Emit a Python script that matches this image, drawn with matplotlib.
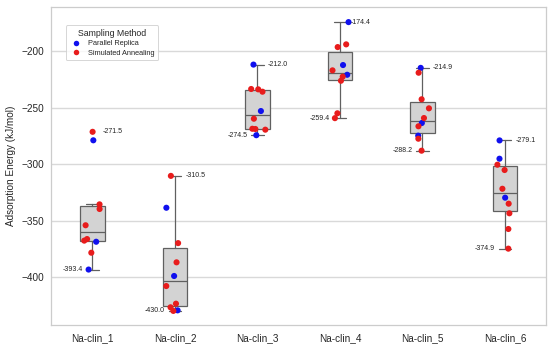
import numpy as np
import pandas as pd
import matplotlib
matplotlib.use("Agg")
import matplotlib.pyplot as plt
import seaborn as sns

categories = ["Na-clin_1", "Na-clin_2", "Na-clin_3", "Na-clin_4", "Na-clin_5", "Na-clin_6"]
methods = ["Parallel Replica", "Simulated Annealing"]

pr_values = {
    "Na-clin_1": [-279.0, -368.8, -393.4],
    "Na-clin_2": [-338.7, -399.1, -429.5],
    "Na-clin_3": [-212.0, -253.1, -274.5],
    "Na-clin_4": [-174.4, -212.4, -221.0],
    "Na-clin_5": [-214.9, -263.7, -274.9],
    "Na-clin_6": [-279.1, -295.3, -329.8],
}
sa_values = {
    "Na-clin_1": [-271.5, -335.7, -339.8, -354.2, -366.4, -367.8, -378.5],
    "Na-clin_2": [-310.5, -370.0, -387.0, -408.0, -423.6, -426.8, -430.0],
    "Na-clin_3": [-233.6, -233.9, -236.0, -259.9, -268.8, -269.0, -269.6],
    "Na-clin_4": [-194.1, -196.5, -217.1, -222.7, -226.3, -255.1, -259.4],
    "Na-clin_5": [-219.2, -242.7, -250.7, -259.3, -266.6, -277.6, -288.2],
    "Na-clin_6": [-300.6, -305.3, -321.9, -335.1, -343.6, -357.5, -374.9],
}

rows = []
for c in categories:
    for v in pr_values[c]:
        rows.append((c, v, methods[0]))
    for v in sa_values[c]:
        rows.append((c, v, methods[1]))
df = pd.DataFrame(rows, columns=["Structure", "Energy", "Method"])

sns.set_theme(style="whitegrid")
plt.rcParams["font.family"] = ["Liberation Sans", "DejaVu Sans"]
plt.rcParams["axes.edgecolor"] = "#cccccc"
plt.rcParams["grid.color"] = "#d9d9d9"

fig = plt.figure(figsize=(5.5, 3.48), dpi=100)
ax = fig.add_axes([0.093, 0.066, 0.900, 0.913])

groups = [df.loc[df.Structure == c, "Energy"].values for c in categories]
positions = np.arange(len(categories))
lc = "#606060"
ax.boxplot(groups, positions=positions, widths=0.3, patch_artist=True,
           showfliers=False,
           boxprops=dict(facecolor="#d3d3d3", edgecolor=lc, linewidth=0.9),
           medianprops=dict(color=lc, linewidth=0.9),
           whiskerprops=dict(color=lc, linewidth=0.9),
           capprops=dict(color=lc, linewidth=0.9),
           zorder=2)

np.random.seed(3)
sns.stripplot(data=df, x="Structure", y="Energy", hue="Method", order=categories,
              hue_order=methods, palette={"Parallel Replica": "#1010ee",
                                          "Simulated Annealing": "#e81c1c"},
              jitter=0.11, size=4.4, linewidth=0, ax=ax, zorder=3)

for i, g in enumerate(groups):
    mx, mn = g.max(), g.min()
    ax.text(i + 0.13, mx, f"{mx:.1f}", fontsize=5, ha="left", va="center", color="#222222")
    ax.text(i - 0.12, mn, f"{mn:.1f}", fontsize=5, ha="right", va="center", color="#222222")

ax.set_xlim(-0.5, len(categories) - 0.5)
ax.set_ylim(-442.5, -161.3)
ax.set_yticks([-400, -350, -300, -250, -200])
ax.set_xticks(positions)
ax.set_xticklabels(categories)
ax.tick_params(axis="y", labelsize=7.2, pad=5, length=0)
ax.tick_params(axis="x", labelsize=7.2, pad=6, length=0)
ax.xaxis.grid(False)
ax.set_xlabel("")
ax.set_ylabel("Adsorption Energy (kJ/mol)", fontsize=7.2, labelpad=4)
for s in ax.spines.values():
    s.set_color("#cccccc")
    s.set_linewidth(0.9)

leg = ax.legend(title="Sampling Method", loc="upper left",
                bbox_to_anchor=(0.022, 0.955), fontsize=5.3, title_fontsize=6.3,
                frameon=True, markerscale=0.9, handletextpad=0.6,
                borderpad=0.45, labelspacing=0.35)
leg.get_frame().set_edgecolor("#cccccc")
leg.get_frame().set_linewidth(0.7)

fig.savefig("out.png", dpi=100)
